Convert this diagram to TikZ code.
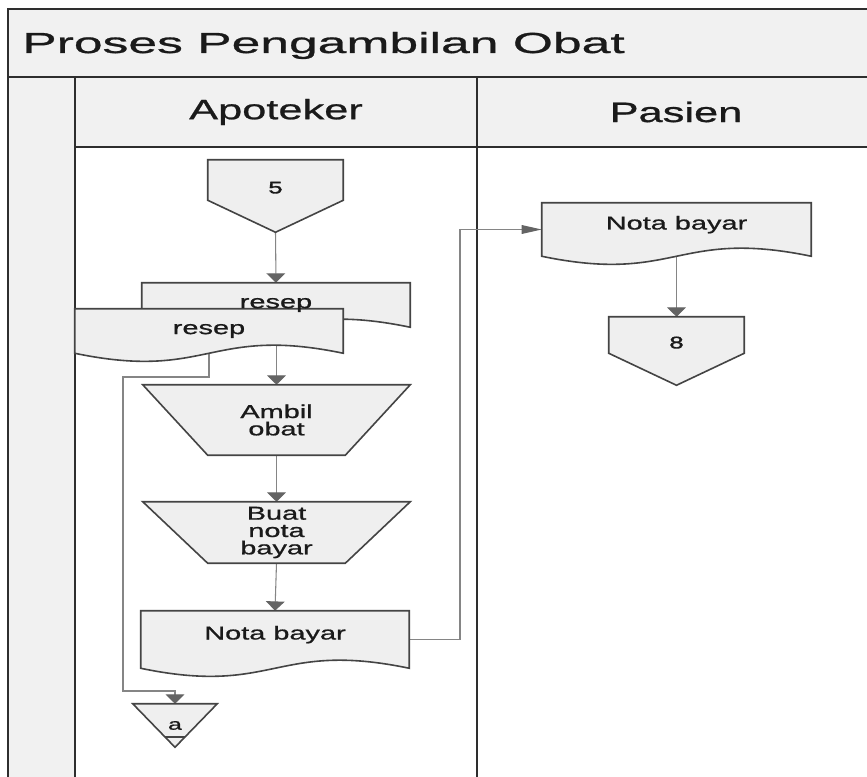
\documentclass[tikz,border=0pt]{standalone}
\usepackage{fontspec}
\setmainfont{Liberation Sans}[FakeStretch=1.55, FakeBold=0.9]
\newfontfamily\titlefont{Liberation Sans}[FakeStretch=1.78, FakeBold=0.9]
\newfontfamily\digitfont{Liberation Sans}[FakeStretch=1.55, FakeBold=1.8]
\usetikzlibrary{arrows.meta,calc}

\pgfdeclarelayer{lanes}
\pgfdeclarelayer{wires}
\pgfdeclarelayer{shapes}
\pgfsetlayers{lanes,wires,shapes,main}

\definecolor{bandfill}{HTML}{F1F1F1}
\definecolor{shapefill}{HTML}{EFEFEF}
\definecolor{edgec}{HTML}{444444}
\definecolor{framec}{HTML}{2E2E2E}
\definecolor{wirec}{HTML}{858585}
\definecolor{tipc}{HTML}{646464}
\definecolor{ink}{HTML}{1A1A1A}

% outlines drawn around the (invisible) rectangular nodes
\newcommand\DocShape[1]{%
  \path[shp] (#1.north west) -- (#1.north east) -- (#1.south east)
    .. controls ($(#1.south)+(0,-28)$) and ($(#1.south)+(0,28)$) .. (#1.south west) -- cycle;}
\newcommand\OffPageShape[1]{%
  \path[shp] (#1.north west) -- (#1.north east) -- ($(#1.south east)+(0,-32)$)
    -- (#1.south) -- ($(#1.south west)+(0,-32)$) -- cycle;}
\newcommand\TrapShape[1]{%
  \path[shp] (#1.north west) -- (#1.north east) -- ($(#1.south east)+(-65,0)$)
    -- ($(#1.south west)+(65,0)$) -- cycle;}

\begin{document}
\begin{tikzpicture}[x=0.75pt, y=-0.75pt,
  box/.style={inner sep=0pt, text=ink, align=center, font=\fontsize{14}{13}\selectfont},
  sz/.style 2 args={minimum width=#1*0.75pt, minimum height=#2*0.75pt},
  small/.style={font=\fontsize{12}{12}\selectfont},
  digit/.style={font=\digitfont\fontsize{12.5}{12}\selectfont},
  shp/.style={fill=shapefill, draw=edgec, line width=1.2pt, line join=miter},
  framel/.style={draw=framec, line width=1.5pt},
  wire/.style={draw=wirec, line width=0.8pt},
  wirev/.style={wire, -{Triangle[width=14pt, length=7pt, color=tipc, fill=tipc]}},
  wireh/.style={wire, -{Triangle[width=6.5pt, length=15pt, color=tipc, fill=tipc]}},
  lanehead/.style={inner sep=0pt, text=ink, font=\fontsize{21}{24}\selectfont}]

\useasboundingbox (0,0) rectangle (867,777);

% pool, lanes and headers
\begin{pgfonlayer}{lanes}
  \fill[white] (0,0) rectangle (867,777);
  \fill[bandfill] (8,9) rectangle (880,147);
  \fill[bandfill] (8,77) rectangle (75,790);
  \draw[framel] (880,9) -- (8,9) -- (8,790);
  \draw[framel, line width=1.9pt] (8,77) -- (880,77);
  \draw[framel] (75,77) -- (75,790);
  \draw[framel] (75,147) -- (880,147);
  \draw[framel] (477,77) -- (477,790);
\end{pgfonlayer}

\node[anchor=base west, inner sep=0pt, text=ink,
      font=\titlefont\fontsize{21.75}{24}\selectfont] (title) at (22,53) {Proses Pengambilan Obat};
\node[lanehead] (hApo) at (276,112) {Apoteker};
\node[lanehead] (hPas) at (676,112) {Pasien};

% Apoteker lane
\node[box, digit, sz={135}{72}, text height=8pt, text depth=12pt] (c5) at (275.5,196) {5};
\node[box, sz={268}{44}] (resepB) at (276,305) {resep};
\node[box, sz={268}{44}] (resepA) at (209,331) {resep};
\node[box, sz={267}{70}] (ambil) at (276.5,420) {Ambil\\obat};
\node[box, sz={267}{61}] (buat) at (276.5,532.5) {Buat\\nota\\bayar};
\node[box, sz={268}{57}, text height=8pt, text depth=8pt] (notaA) at (275,639.5) {Nota bayar};
\node[box, small, sz={84}{43}] (triA) at (175,725.5) {a};

% Pasien lane
\node[box, sz={269}{53}, text height=8pt, text depth=8pt] (notaP) at (676.5,229.5) {Nota bayar};
\node[box, digit, sz={135}{68}, text height=8pt, text depth=12pt] (c8) at (676.5,351) {8};

\begin{pgfonlayer}{shapes}
  \OffPageShape{c5}
  \DocShape{resepB}
  \DocShape{resepA}
  \TrapShape{ambil}
  \TrapShape{buat}
  \DocShape{notaA}
  \path[shp] (triA.north west) -- (triA.north east) -- (triA.south) -- cycle;
  \draw[draw=edgec, line width=1.2pt] ($(triA.south)+(-10,-10)$) -- ($(triA.south)+(10,-10)$);
  \DocShape{notaP}
  \OffPageShape{c8}
\end{pgfonlayer}

% connectors
\coordinate (bendB) at (123,377);
\coordinate (bendC) at (123,691);
\coordinate (jog) at (460,643);
\begin{pgfonlayer}{wires}
  \draw[wirev] (c5.south) -- (resepB.north);
  \draw[wirev] (resepA.center -| ambil.north) -- (ambil.north);
  \draw[wirev] (ambil.south) -- (buat.north);
  \draw[wirev] (buat.south) -- (notaA.north);
  \draw[wirev] (resepA.center) -- (resepA.center |- bendB) -- (bendB) -- (bendC)
               -- (bendC -| triA.north) -- (triA.north);
  \draw[wireh] (notaA.east) -- (notaA.east -| jog) -- (jog |- notaP.west) -- (notaP.west);
  \draw[wirev] (notaP.center) -- (c8.north);
\end{pgfonlayer}
\end{tikzpicture}
\end{document}
